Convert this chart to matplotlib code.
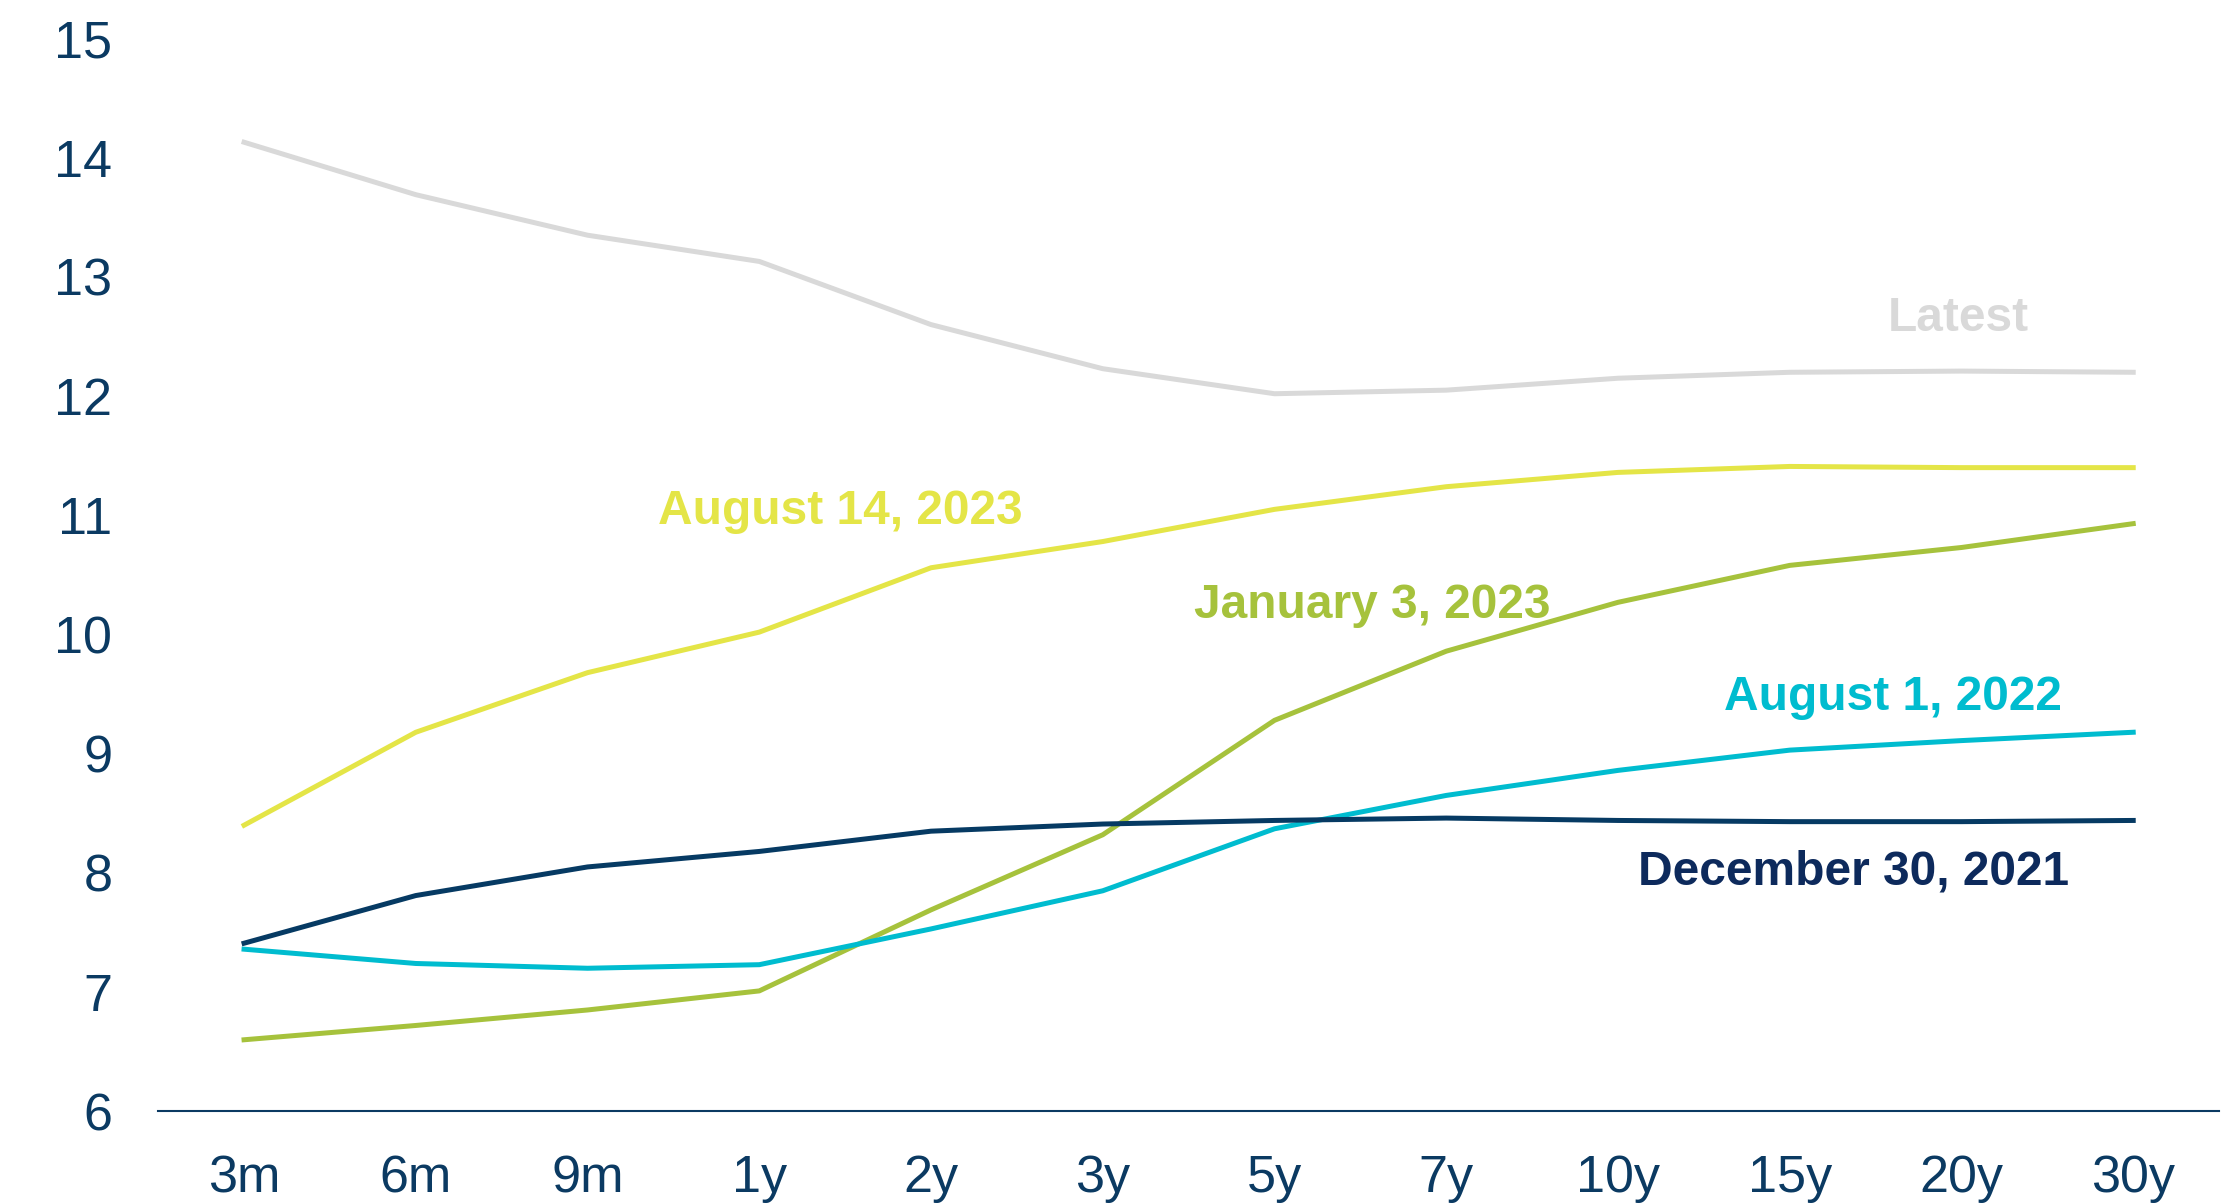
import numpy as np
import matplotlib.pyplot as plt

plt.rcParams['font.family'] = ['Liberation Sans', 'DejaVu Sans']

tenors = ['3m', '6m', '9m', '1y', '2y', '3y', '5y', '7y', '10y', '15y', '20y', '30y']

latest = [14.13, 13.69, 13.35, 13.13, 12.60, 12.23, 12.02, 12.05, 12.15, 12.20, 12.21, 12.20]
aug_14_2023 = [8.40, 9.18, 9.68, 10.02, 10.56, 10.78, 11.05, 11.24, 11.36, 11.41, 11.40, 11.40]
jan_3_2023 = [6.60, 6.72, 6.85, 7.01, 7.69, 8.32, 9.28, 9.86, 10.27, 10.58, 10.73, 10.93]
aug_1_2022 = [7.36, 7.24, 7.20, 7.23, 7.53, 7.85, 8.37, 8.65, 8.86, 9.03, 9.11, 9.18]
dec_30_2021 = [7.41, 7.81, 8.05, 8.18, 8.35, 8.41, 8.44, 8.46, 8.44, 8.43, 8.43, 8.44]

navy = '#0b3a62'
x = np.arange(len(tenors))

fig = plt.figure(figsize=(22.28, 12.04), dpi=100)
ax = fig.add_axes([0.071, 0.077, 0.925, 0.891])

# series: (values, line colour, label text, label colour, label position)
series = [
    (latest, '#d9d9d9', 'Latest', '#d9d9d9', (9.98, 12.65)),
    (aug_14_2023, '#e4e547', 'August 14, 2023', '#e4e547', (3.47, 11.03)),
    (jan_3_2023, '#a6c23c', 'January 3, 2023', '#a6c23c', (6.57, 10.24)),
    (aug_1_2022, '#00bccf', 'August 1, 2022', '#00bccf', (9.60, 9.47)),
    (dec_30_2021, '#063a63', 'December 30, 2021', '#0d2a5c', (9.37, 8.01)),
]

for vals, col, lab, tcol, pos in series:
    ax.plot(x, vals, color=col, linewidth=3.6)
    ax.text(pos[0], pos[1], lab, color=tcol, fontsize=34.5, fontweight='bold',
            ha='center', va='center')

ax.set_xlim(-0.5, len(tenors) - 0.5)
ax.set_ylim(6, 15)
ax.set_yticks(range(6, 16))
ax.set_xticks(x)
ax.set_xticklabels(tenors)

for s in ['top', 'right', 'left']:
    ax.spines[s].set_visible(False)
ax.spines['bottom'].set_color(navy)
ax.spines['bottom'].set_linewidth(1.5)

ax.tick_params(axis='both', length=0, labelsize=37.5, colors=navy)
ax.tick_params(axis='y', pad=33)
ax.tick_params(axis='x', pad=31)

fig.savefig('out.png', dpi=100)
